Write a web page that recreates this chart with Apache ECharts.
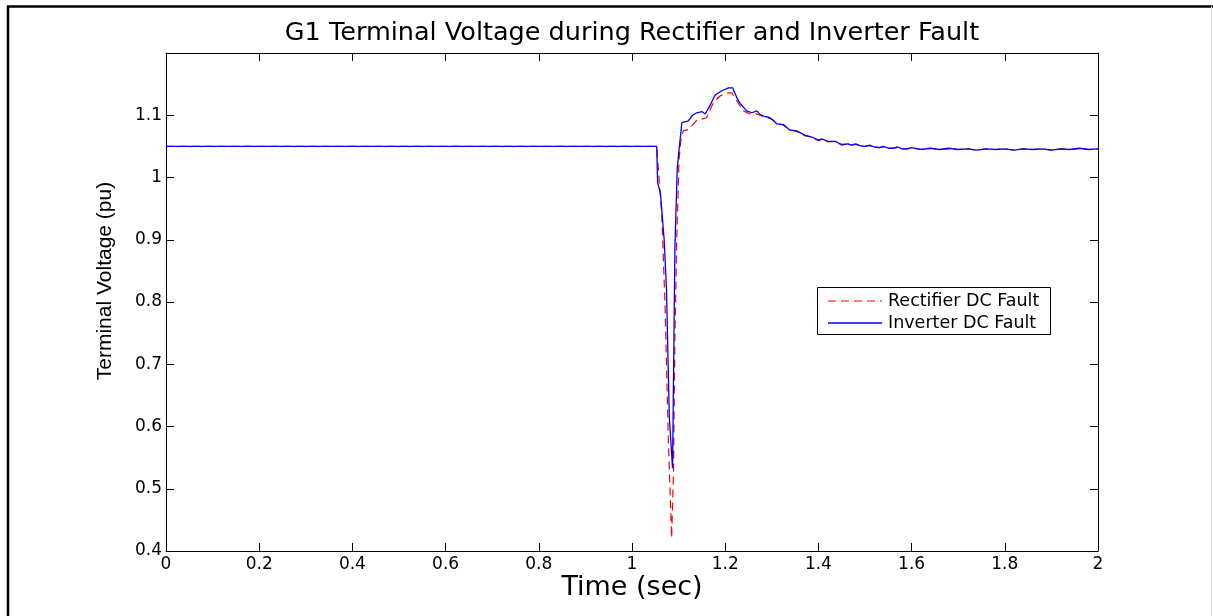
<!DOCTYPE html>
<html>
<head>
<meta charset="utf-8">
<script src="https://cdn.jsdelivr.net/npm/echarts@6/dist/echarts.min.js"></script>
<style>
html,body{margin:0;padding:0;background:#fff;}
#chart{width:1213px;height:616px;}
</style>
</head>
<body>
<div id="chart"></div>
<script>
// ---- Data ----
const titleText = 'G1 Terminal Voltage during Rectifier and Inverter Fault';
const xLabel = 'Time (sec)';
const yLabel = 'Terminal Voltage (pu)';
const seriesNames = ['Rectifier DC Fault', 'Inverter DC Fault'];
const seriesColors = ['#ff0000', '#0000ff'];

const rectTime = [0, 1.053, 1.064, 1.071, 1.078, 1.085, 1.089, 1.092, 1.096, 1.101, 1.105, 1.110, 1.121, 1.139, 1.145, 1.160, 1.175, 1.189, 1.203, 1.214, 1.221, 1.232, 1.239, 1.253, 1.264, 1.275, 1.285, 1.296, 1.304, 1.311, 1.325, 1.339, 1.353, 1.371, 1.386, 1.400, 1.407, 1.421, 1.436, 1.450, 1.464, 1.47, 1.48, 1.49, 1.50, 1.51, 1.52, 1.53, 1.54, 1.55, 1.56, 1.57, 1.58, 1.59, 1.60, 1.62, 1.64, 1.66, 1.68, 1.70, 1.72, 1.74, 1.76, 1.78, 1.80, 1.82, 1.84, 1.86, 1.88, 1.90, 1.92, 1.94, 1.96, 1.98, 2.00];
const rectVolt = [1.05, 1.05, 0.938, 0.793, 0.579, 0.421, 0.526, 0.74, 0.90, 1.03, 1.06, 1.075, 1.077, 1.092, 1.093, 1.096, 1.121, 1.131, 1.136, 1.136, 1.128, 1.115, 1.107, 1.102, 1.103, 1.100, 1.097, 1.095, 1.091, 1.087, 1.084, 1.077, 1.074, 1.067, 1.065, 1.059, 1.061, 1.057, 1.058, 1.052, 1.054, 1.052, 1.053, 1.051, 1.050, 1.051, 1.049, 1.048, 1.049, 1.047, 1.047, 1.048, 1.046, 1.046, 1.047, 1.045, 1.047, 1.045, 1.046, 1.045, 1.046, 1.044, 1.046, 1.045, 1.046, 1.044, 1.046, 1.045, 1.046, 1.044, 1.046, 1.045, 1.046, 1.045, 1.046];

const invTime = [0, 1.053, 1.055, 1.061, 1.069, 1.074, 1.080, 1.087, 1.088, 1.092, 1.097, 1.101, 1.107, 1.121, 1.130, 1.139, 1.150, 1.157, 1.167, 1.178, 1.192, 1.207, 1.216, 1.225, 1.232, 1.246, 1.257, 1.268, 1.275, 1.285, 1.296, 1.303, 1.311, 1.325, 1.339, 1.353, 1.371, 1.386, 1.400, 1.407, 1.421, 1.436, 1.450, 1.464, 1.47, 1.48, 1.49, 1.50, 1.51, 1.52, 1.53, 1.54, 1.55, 1.56, 1.57, 1.58, 1.59, 1.60, 1.62, 1.64, 1.66, 1.68, 1.70, 1.72, 1.74, 1.76, 1.78, 1.80, 1.82, 1.84, 1.86, 1.88, 1.90, 1.92, 1.94, 1.96, 1.98, 2.00];
const invVolt = [1.05, 1.05, 0.992, 0.975, 0.90, 0.82, 0.616, 0.533, 0.533, 0.884, 1.013, 1.045, 1.088, 1.091, 1.100, 1.104, 1.106, 1.102, 1.115, 1.132, 1.139, 1.144, 1.144, 1.128, 1.119, 1.107, 1.104, 1.107, 1.101, 1.098, 1.096, 1.092, 1.086, 1.085, 1.076, 1.075, 1.068, 1.065, 1.060, 1.062, 1.058, 1.058, 1.053, 1.054, 1.052, 1.054, 1.051, 1.050, 1.052, 1.049, 1.048, 1.050, 1.047, 1.047, 1.049, 1.046, 1.046, 1.048, 1.045, 1.047, 1.045, 1.047, 1.045, 1.046, 1.044, 1.046, 1.045, 1.046, 1.044, 1.046, 1.045, 1.046, 1.044, 1.046, 1.045, 1.047, 1.045, 1.046];

const xMin = 0, xMax = 2, xStep = 0.2;
const yMin = 0.4, yMax = 1.2, yStep = 0.1;

// ---- Build chart ----
const zip = (t, v) => t.map((x, i) => [x, v[i]]);
const chart = echarts.init(document.getElementById('chart'), null, {renderer: 'canvas'});
const tickFont = {fontFamily: 'DejaVu Sans', fontSize: 17, color: '#000'};
const G = {left: 166, top: 53, right: 1098, bottom: 551};

const axisCommon = {
  axisLine: {show: true, onZero: false, lineStyle: {color: '#000', width: 1}},
  axisTick: {show: true, inside: true, length: 8, lineStyle: {color: '#000'}},
  splitLine: {show: false}
};

// legend box drawn as graphics (position/style only; names come from seriesNames)
const LG = {x: 817, y: 287, w: 233, h: 47, row1: 301, row2: 323, lineX1: 828, lineX2: 882, textX: 888};

chart.setOption({
  animation: false,
  backgroundColor: '#fff',
  grid: {left: G.left, top: G.top, right: 1213 - G.right, bottom: 616 - G.bottom, containLabel: false},
  xAxis: [
    Object.assign({type: 'value', position: 'bottom', min: xMin, max: xMax, interval: xStep,
      axisLabel: Object.assign({margin: 5}, tickFont)}, axisCommon),
    Object.assign({type: 'value', position: 'top', min: xMin, max: xMax, interval: xStep,
      axisLabel: {show: false}}, axisCommon)
  ],
  yAxis: [
    Object.assign({type: 'value', position: 'left', min: yMin, max: yMax, interval: yStep,
      axisLabel: Object.assign({margin: 4, formatter: v => (Math.abs(v - yMax) < 1e-9 ? '' : String(+v.toFixed(2)))}, tickFont)}, axisCommon),
    Object.assign({type: 'value', position: 'right', min: yMin, max: yMax, interval: yStep,
      axisLabel: {show: false}}, axisCommon)
  ],
  series: [
    {name: seriesNames[0], type: 'line', data: zip(rectTime, rectVolt), showSymbol: false, symbol: 'none',
     lineStyle: {color: seriesColors[0], width: 1.2, type: [8, 5]}, itemStyle: {color: seriesColors[0]}, z: 2},
    {name: seriesNames[1], type: 'line', data: zip(invTime, invVolt), showSymbol: false, symbol: 'none',
     lineStyle: {color: seriesColors[1], width: 1.3}, itemStyle: {color: seriesColors[1]}, z: 3}
  ],
  graphic: [
    {type: 'line', shape: {x1: 8, y1: 6, x2: 8, y2: 616}, style: {stroke: '#000', lineWidth: 2.5}, z: 10},
    {type: 'line', shape: {x1: 7, y1: 6.5, x2: 1213, y2: 6.5}, style: {stroke: '#000', lineWidth: 2.5}, z: 10},
    {type: 'line', shape: {x1: 1211.5, y1: 6, x2: 1211.5, y2: 616}, style: {stroke: '#d8d8d8', lineWidth: 1}, z: 10},
    {type: 'text', x: 632, y: 33, style: {text: titleText, fontFamily: 'DejaVu Sans', fontSize: 25.5, fill: '#000', textAlign: 'center', textVerticalAlign: 'middle'}},
    {type: 'text', x: 632, y: 588, style: {text: xLabel, fontFamily: 'DejaVu Sans', fontSize: 27, fill: '#000', textAlign: 'center', textVerticalAlign: 'middle'}},
    {type: 'text', x: 105, y: 281, rotation: Math.PI / 2, style: {text: yLabel, fontFamily: 'Liberation Sans', fontSize: 21, fill: '#000', textAlign: 'center', textVerticalAlign: 'middle'}},
    // legend
    {type: 'rect', shape: {x: LG.x + 0.5, y: LG.y + 0.5, width: LG.w, height: LG.h}, style: {fill: '#fff', stroke: '#000', lineWidth: 1}, z: 20},
    {type: 'line', shape: {x1: LG.lineX1, y1: LG.row1, x2: LG.lineX2, y2: LG.row1}, style: {stroke: seriesColors[0], lineWidth: 1.2, lineDash: [8, 5]}, z: 21},
    {type: 'line', shape: {x1: LG.lineX1, y1: LG.row2, x2: LG.lineX2, y2: LG.row2}, style: {stroke: seriesColors[1], lineWidth: 1.3}, z: 21},
    {type: 'text', x: LG.textX, y: LG.row1, style: {text: seriesNames[0], fontFamily: 'DejaVu Sans', fontSize: 17.5, fill: '#000', textAlign: 'left', textVerticalAlign: 'middle'}, z: 21},
    {type: 'text', x: LG.textX, y: LG.row2, style: {text: seriesNames[1], fontFamily: 'DejaVu Sans', fontSize: 17.5, fill: '#000', textAlign: 'left', textVerticalAlign: 'middle'}, z: 21}
  ]
});
</script>
</body>
</html>
